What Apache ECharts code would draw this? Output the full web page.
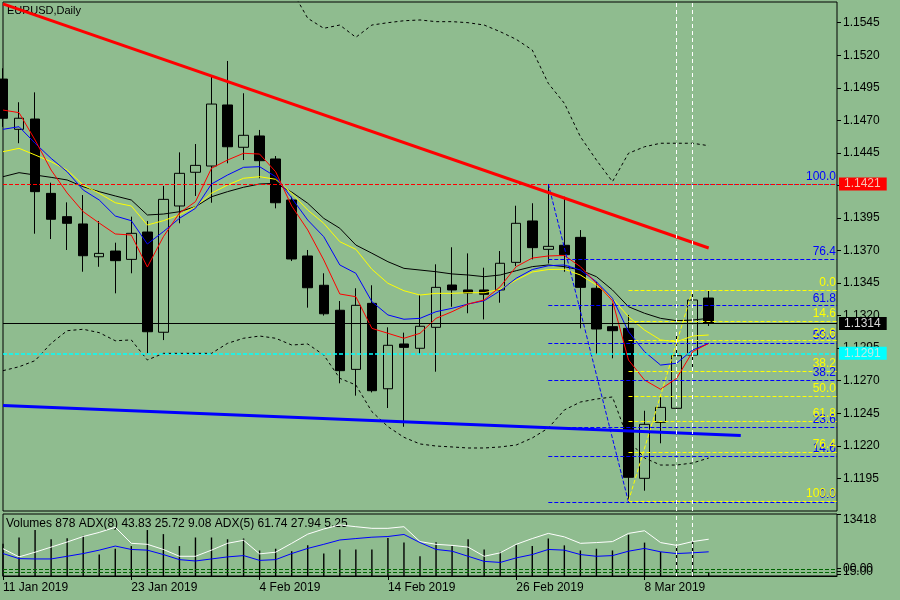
<!DOCTYPE html>
<html>
<head>
<meta charset="utf-8">
<script src="https://cdn.jsdelivr.net/npm/echarts@6/dist/echarts.min.js"></script>
<style>
  html, body { margin: 0; padding: 0; background: #8FBC8F; }
  #chart { width: 900px; height: 600px; }
</style>
</head>
<body>
<div id="chart"></div>
<script>
const FONT = "Liberation Sans";
const BG = "#8FBC8F";

// daily bars, EURUSD
const dates = [
  "11 Jan 2019", "14 Jan 2019", "15 Jan 2019", "16 Jan 2019", "17 Jan 2019", "18 Jan 2019",
  "21 Jan 2019", "22 Jan 2019", "23 Jan 2019", "24 Jan 2019", "25 Jan 2019", "28 Jan 2019",
  "29 Jan 2019", "30 Jan 2019", "31 Jan 2019", "1 Feb 2019", "4 Feb 2019", "5 Feb 2019",
  "6 Feb 2019", "7 Feb 2019", "8 Feb 2019", "11 Feb 2019", "12 Feb 2019", "13 Feb 2019",
  "14 Feb 2019", "15 Feb 2019", "18 Feb 2019", "19 Feb 2019", "20 Feb 2019", "21 Feb 2019",
  "22 Feb 2019", "25 Feb 2019", "26 Feb 2019", "27 Feb 2019", "28 Feb 2019", "1 Mar 2019",
  "4 Mar 2019", "5 Mar 2019", "6 Mar 2019", "7 Mar 2019", "8 Mar 2019", "11 Mar 2019",
  "12 Mar 2019", "13 Mar 2019", "14 Mar 2019"
];

const openP = [1.15017,1.14631,1.14710,1.14139,1.13960,1.13904,1.13652,1.13696,1.13632,1.13842,
  1.13072,1.14042,1.14301,1.14349,1.14818,1.14493,1.14580,1.14403,1.14088,1.13658,
  1.13433,1.13241,1.12787,1.13294,1.12638,1.12982,1.12949,1.13110,1.13435,1.13397,
  1.13397,1.13397,1.13609,1.13927,1.13709,1.13740,1.13801,1.13410,1.13115,1.13102,
  1.11950,1.12380,1.12488,1.12897,1.13335];
const highP = [1.15100,1.14839,1.14915,1.14221,1.14070,1.14126,1.13927,1.13760,1.13960,1.13927,
  1.14196,1.14454,1.14518,1.15035,1.15156,1.14908,1.14626,1.14426,1.14113,1.13704,
  1.13525,1.13312,1.13410,1.13433,1.13110,1.13069,1.13358,1.13594,1.13725,1.13678,
  1.13568,1.13696,1.14044,1.14063,1.14210,1.14113,1.13857,1.13460,1.13294,1.13205,
  1.12469,1.12577,1.13064,1.13391,1.13391];
const lowP = [1.14650,1.14524,1.13829,1.13788,1.13704,1.13537,1.13575,1.13371,1.13525,1.12910,
  1.13012,1.13909,1.14119,1.14067,1.14370,1.14395,1.14255,1.14024,1.13619,1.13261,
  1.13200,1.12680,1.12585,1.12610,1.12490,1.12346,1.12905,1.12769,1.13268,1.13218,
  1.13171,1.13299,1.13580,1.13632,1.13600,1.13537,1.13102,1.12910,1.12872,1.11770,
  1.11855,1.12219,1.12470,1.12782,1.13120];
const closeP = [1.14716,1.14716,1.14152,1.13940,1.13909,1.13660,1.13678,1.13622,1.13832,1.13076,
  1.14093,1.14293,1.14354,1.14825,1.14497,1.14585,1.14390,1.14067,1.13635,1.13414,
  1.13214,1.12777,1.13279,1.12623,1.12972,1.12956,1.13118,1.13417,1.13397,1.13374,
  1.13364,1.13602,1.13909,1.13722,1.13732,1.13668,1.13417,1.13097,1.13084,1.11958,
  1.12365,1.12495,1.12892,1.13320,1.13140];

// moving averages
const maRed = [1.14779,1.14759,1.14549,1.14318,1.14142,1.13998,1.13911,1.13827,1.13819,1.13573,
  1.13806,1.13988,1.14075,1.14332,1.14395,1.14447,1.14441,1.14305,1.14042,1.13858,
  1.13627,1.13366,1.13345,1.13102,1.13064,1.13026,1.13064,1.13179,1.13230,1.13289,
  1.13320,1.13422,1.13576,1.13642,1.13658,1.13662,1.13576,1.13448,1.13314,1.12859,
  1.12705,1.12634,1.12718,1.12923,1.12987];
const maBlue = [1.14631,1.14651,1.14524,1.14408,1.14305,1.14165,1.14088,1.13965,1.13929,1.13750,
  1.13845,1.13947,1.14024,1.14211,1.14280,1.14339,1.14344,1.14267,1.14103,1.13934,
  1.13806,1.13589,1.13525,1.13307,1.13205,1.13172,1.13179,1.13230,1.13256,1.13289,
  1.13314,1.13391,1.13487,1.13554,1.13583,1.13589,1.13550,1.13460,1.13333,1.13076,
  1.12923,1.12820,1.12834,1.12936,1.12987];
const maYellow = [1.14459,1.14485,1.14434,1.14382,1.14318,1.14203,1.14140,1.14067,1.14042,1.13896,
  1.13929,1.13973,1.14037,1.14140,1.14203,1.14255,1.14267,1.14247,1.14140,1.14011,
  1.13909,1.13768,1.13709,1.13556,1.13448,1.13391,1.13358,1.13371,1.13371,1.13376,
  1.13376,1.13402,1.13473,1.13535,1.13554,1.13556,1.13512,1.13435,1.13333,1.13192,
  1.13089,1.13013,1.12999,1.13043,1.13051];
const maBlack = [1.14267,1.14298,1.14280,1.14262,1.14242,1.14190,1.14152,1.14119,1.14088,1.13973,
  1.13980,1.13998,1.14037,1.14113,1.14152,1.14186,1.14211,1.14216,1.14149,1.14063,
  1.13947,1.13871,1.13742,1.13679,1.13614,1.13563,1.13550,1.13537,1.13520,1.13512,
  1.13499,1.13512,1.13545,1.13576,1.13589,1.13576,1.13550,1.13499,1.13397,1.13268,
  1.13218,1.13179,1.13161,1.13166,1.13179];

// bollinger bands (first bars run above the top of the window)
const bbUpper = [1.1590,1.1588,1.1587,1.1590,1.1592,1.1594,1.1593,1.1590,1.1588,1.1592,
  1.1590,1.1589,1.1588,1.1585,1.1584,1.1582,1.1580,1.1576,1.1570,1.15484,
  1.15407,1.15432,1.15338,1.15432,1.15450,1.15465,1.15471,1.15458,1.15458,1.15450,
  1.15432,1.15381,1.15322,1.15240,1.14984,1.14831,1.14574,1.14395,1.14229,1.14447,
  1.14497,1.14524,1.14524,1.14524,1.14505];
const bbLower = [1.12777,1.12807,1.12854,1.12987,1.13084,1.13095,1.13069,1.13007,1.13013,1.12859,
  1.12910,1.12910,1.12910,1.12910,1.12987,1.13026,1.13043,1.13026,1.12974,1.12982,
  1.12897,1.12718,1.12667,1.12462,1.12347,1.12265,1.12214,1.12198,1.12191,1.12183,
  1.12183,1.12191,1.12206,1.12260,1.12336,1.12475,1.12536,1.12559,1.12575,1.12244,
  1.12106,1.12052,1.12052,1.12068,1.12106];

// lower window
const volumes = [7000,8334,9947,7958,8179,8687,4642,5902,6477,9947,
  9063,6477,8334,8334,7958,8113,5526,5902,5372,6632,
  4863,5747,5747,5747,8245,7228,4266,7300,6477,7958,
  5747,5239,6698,6477,8113,6632,5526,5902,5526,8908,
  7228,5239,6632,7449,878];
const adxWhite = [44.0,30.8,38.4,46.6,54.8,63.7,70.3,78.6,52.7,51.1,
  42.8,31.8,31.8,41.7,52.7,57.6,35.7,38.4,52.7,67.5,
  75.8,82.4,79.5,76.9,76.9,79.5,55.5,51.1,49.4,46.6,
  31.8,37.4,51.1,60.4,68.7,63.1,52.7,53.9,55.5,68.7,
  73.0,53.9,49.4,55.5,59.3];
const adxBlue = [36.2,28.0,27.5,27.5,31.8,36.2,41.7,48.3,42.8,41.7,
  34.6,26.4,24.2,27.5,30.8,32.9,25.2,26.4,36.2,44.5,
  51.1,58.1,60.4,62.6,63.7,67.0,53.9,42.8,40.0,31.8,
  23.6,21.9,29.2,34.6,42.8,41.7,34.6,31.8,32.9,40.0,
  44.5,39.0,36.2,37.4,39.0];
const adxLevels = [11.0, 5.4];

// fibonacci retracements
const fibBlueLabels = ["100.0", "76.4", "61.8", "50.0", "38.2", "23.6", "14.6", "0.0"];
const fibBluePrices = [1.14211, 1.13635, 1.13279, 1.12989, 1.12705, 1.12344, 1.12121, 1.11768];
const fibYellowLabels = ["0.0", "14.6", "23.6", "38.2", "50.0", "61.8", "76.4", "100.0"];
const fibYellowPrices = [1.13397, 1.13158, 1.13009, 1.12774, 1.12582, 1.12390, 1.12152, 1.11776];
const fibBlueStart = 34, fibYellowStart = 39;
const fibBlueDiag = [[34, 1.14211], [39, 1.11768]];
const fibYellowDiag = [[39, 1.11776], [43, 1.13397]];

// trend lines
const redTrend = [[0, 1.15594], [44, 1.13719]];
const blueTrend = [[0, 1.12509], [46, 1.12279]];

// horizontal price lines
const lastPrice = 1.1314;
const redLevel = 1.1421;
const cyanLevel = 1.1291;
const vLines = [42, 43];

const priceTicks = [1.1545, 1.1520, 1.1495, 1.1470, 1.1445, 1.1420, 1.1395, 1.1370, 1.1345,
  1.1320, 1.1295, 1.1270, 1.1245, 1.1220, 1.1195];
const volumeMax = 13418;

const shiftBars = 8; // empty space at the right edge
const categories = dates.concat(new Array(shiftBars).fill(""));
const lastIdx = categories.length - 1;
const candles = dates.map((d, i) => [openP[i], closeP[i], lowP[i], highP[i]]);
const labelAt = (i) => i % 8 === 0 && i < dates.length;

const fibLine = (start, price, text, color) => [
  {
    coord: [start, price],
    lineStyle: { color: color, type: [4, 2], width: 1 },
    label: { show: true, position: "insideEndTop", formatter: text, color: color,
      fontSize: 12, fontFamily: FONT, distance: 1 }
  },
  { coord: [lastIdx, price] }
];

const priceBox = (value, lineColor, lineType, lineWidth, boxColor, textColor) => ({
  yAxis: value,
  lineStyle: { color: lineColor, type: lineType, width: lineWidth },
  label: {
    show: true, position: "end", distance: 2, formatter: value.toFixed(4),
    backgroundColor: boxColor, color: textColor, padding: [1, 6, 0, 5],
    fontSize: 12, fontFamily: FONT
  }
});

const segment = (pts, color, width, type) => [
  { coord: pts[0], lineStyle: { color: color, width: width, type: type } },
  { coord: pts[1] }
];

const markData = [];
fibBluePrices.forEach((p, i) => markData.push(fibLine(fibBlueStart, p, fibBlueLabels[i], "#0000ff")));
fibYellowPrices.forEach((p, i) => markData.push(fibLine(fibYellowStart, p, fibYellowLabels[i], "#ffff00")));
markData.push(segment(fibBlueDiag, "#0000ff", 1, [4, 2]));
markData.push(segment(fibYellowDiag, "#ffff00", 1, [4, 2]));
markData.push(priceBox(redLevel, "#ff0000", [4, 2], 1, "#ff0000", "#f7c0b0"));
markData.push(priceBox(cyanLevel, "#00ffff", [4, 2], 1.6, "#00ffff", "#b8ece6"));
markData.push(priceBox(lastPrice, "#000000", "solid", 1, "#000000", "#d8d8d8"));
markData.push(segment(redTrend, "#ff0000", 3, "solid"));
markData.push(segment(blueTrend, "#0000ff", 3, "solid"));
vLines.forEach(v => markData.push({ xAxis: v, lineStyle: { color: "#ffffff", type: [4, 3], width: 1 }, label: { show: false } }));

const maSeries = (name, data, color) => ({
  name: name, type: "line", xAxisIndex: 0, yAxisIndex: 0, data: data,
  symbol: "none", smooth: false, lineStyle: { color: color, width: 1 }, silent: true
});
const bbSeries = (name, data) => ({
  name: name, type: "line", xAxisIndex: 0, yAxisIndex: 0, data: data,
  symbol: "none", lineStyle: { color: "#000000", width: 1, type: [3, 3] }, silent: true
});

const chart = echarts.init(document.getElementById("chart"));
chart.setOption({
  animation: false,
  backgroundColor: BG,
  textStyle: { fontFamily: FONT },
  grid: [
    { left: 3, top: 2, width: 834, height: 509, show: true, borderColor: "#000", borderWidth: 1, backgroundColor: "transparent" },
    { left: 3, top: 514, width: 834, height: 62, show: true, borderColor: "#000", borderWidth: 1, backgroundColor: "transparent" }
  ],
  xAxis: [
    { type: "category", gridIndex: 0, data: categories, boundaryGap: false, show: false },
    {
      type: "category", gridIndex: 1, data: categories, boundaryGap: false,
      axisLine: { show: true, lineStyle: { color: "#000" } },
      axisTick: { show: true, length: 4, interval: (i) => labelAt(i), lineStyle: { color: "#000" } },
      axisLabel: { interval: (i) => labelAt(i), align: "left", margin: 6, color: "#000", fontSize: 12, fontFamily: FONT },
      splitLine: { show: false }
    }
  ],
  yAxis: [
    {
      type: "value", gridIndex: 0, position: "right", min: 1.11699, max: 1.15609,
      splitLine: { show: false }, axisLine: { show: false },
      axisTick: { show: true, length: 4, customValues: priceTicks, lineStyle: { color: "#000" } },
      axisLabel: { customValues: priceTicks, formatter: (v) => v.toFixed(4), margin: 6, color: "#000", fontSize: 12, fontFamily: FONT }
    },
    {
      type: "value", gridIndex: 1, position: "right", min: 0, max: volumeMax,
      splitLine: { show: false }, axisLine: { show: false },
      axisTick: { show: true, length: 4, customValues: [volumeMax], lineStyle: { color: "#000" } },
      axisLabel: { customValues: [volumeMax], formatter: (v) => String(v), verticalAlign: "top", margin: 6, color: "#000", fontSize: 12, fontFamily: FONT }
    },
    { type: "value", gridIndex: 1, min: 0, max: 100, show: false }
  ],
  series: [
    {
      name: "EURUSD", type: "candlestick", xAxisIndex: 0, yAxisIndex: 0, data: candles,
      barWidth: 10, silent: true,
      itemStyle: { color: BG, color0: "#000000", borderColor: "#000000", borderColor0: "#000000", borderWidth: 1 }
    },
    bbSeries("BB upper", bbUpper),
    bbSeries("BB lower", bbLower),
    maSeries("MA black", maBlack, "#000000"),
    maSeries("MA yellow", maYellow, "#ffff00"),
    maSeries("MA blue", maBlue, "#0000ff"),
    maSeries("MA red", maRed, "#ff0000"),
    {
      name: "levels", type: "line", xAxisIndex: 0, yAxisIndex: 0, data: [],
      markLine: { silent: true, symbol: "none", animation: false, precision: 5, data: markData }
    },
    {
      name: "Volumes", type: "bar", xAxisIndex: 1, yAxisIndex: 1, data: volumes,
      barWidth: 1.4, itemStyle: { color: "#000000" }, silent: true,
      markLine: {
        silent: true, symbol: "none", animation: false,
        data: vLines.map(v => ({ xAxis: v, lineStyle: { color: "#ffffff", type: [4, 3], width: 1 }, label: { show: false } }))
      }
    },
    {
      name: "ADX(5)", type: "line", xAxisIndex: 1, yAxisIndex: 2, data: adxWhite,
      symbol: "none", lineStyle: { color: "#ffffff", width: 1 }, silent: true,
      markLine: {
        silent: true, symbol: "none", animation: false, precision: 2,
        data: adxLevels.map(v => ({ yAxis: v, lineStyle: { color: "#006400", type: [4, 2], width: 1 }, label: { show: false } }))
      }
    },
    {
      name: "ADX(8)", type: "line", xAxisIndex: 1, yAxisIndex: 2, data: adxBlue,
      symbol: "none", lineStyle: { color: "#0000ff", width: 1 }, silent: true
    }
  ],
  graphic: [
    { type: "text", left: 7, top: 5, style: { text: "EURUSD,Daily", font: "11px " + FONT, fill: "#000" } },
    { type: "text", left: 6, top: 518, style: { text: "Volumes 878 ADX(8) 43.83 25.72 9.08 ADX(5) 61.74 27.94 5.25", font: "12px " + FONT, fill: "#000" } },
    { type: "text", left: 843, top: 563, style: { text: "00.00", font: "12px " + FONT, fill: "#000" } },
    { type: "text", left: 843, top: 566, style: { text: "15.00", font: "12px " + FONT, fill: "#000" } },
    { type: "line", shape: { x1: 837, y1: 568.5, x2: 841, y2: 568.5 }, style: { stroke: "#000", lineWidth: 1 } },
    { type: "line", shape: { x1: 837, y1: 571.5, x2: 841, y2: 571.5 }, style: { stroke: "#000", lineWidth: 1 } },
    { type: "line", shape: { x1: 837, y1: 574.5, x2: 841, y2: 574.5 }, style: { stroke: "#000", lineWidth: 1 } }
  ]
});
</script>
</body>
</html>
